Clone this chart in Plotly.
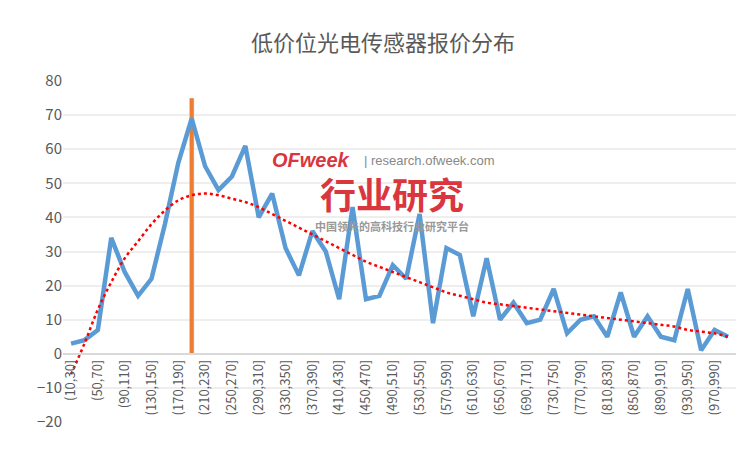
import plotly.graph_objects as go

categories = [f"({a},{a+20}]" for a in range(10, 1010, 20)]
counts = [3, 4, 7, 34, 24, 17, 22, 38, 56, 69, 55, 48, 52, 61, 40, 47, 31, 23, 36, 30,
          16, 43, 16, 17, 26, 22, 41, 9, 31, 29, 11, 28, 10, 15, 9, 10, 19, 6, 10, 11,
          5, 18, 5, 11, 5, 4, 19, 1, 7, 5]
trend = [-6, 3, 13, 21, 28, 33, 38, 42, 45, 46.5, 47, 46.5, 45.5, 44.5, 43, 41, 39, 37, 35, 33,
         31, 29, 27, 25.5, 24, 22.5, 21, 19.5, 18, 17, 16, 15, 14.5, 14, 13.5, 13, 12.5, 12, 11.5, 11,
         10.5, 10, 9.5, 9, 8.5, 8, 7, 6.5, 6, 5]
marker_cat = ["(190,210]"]
marker_val = [75]
tick_labels = categories[::2]

fig = go.Figure()
fig.add_trace(go.Bar(x=marker_cat, y=marker_val, marker_color="#ED7D31", width=0.35, hoverinfo="skip"))
fig.add_trace(go.Scatter(x=categories, y=counts, mode="lines",
                         line=dict(color="#5B9BD5", width=4.5)))
fig.add_trace(go.Scatter(x=categories, y=trend, mode="lines", line_shape="spline",
                         line=dict(color="#FF0000", width=2.5, dash="dot")))

fig.update_layout(
    width=750, height=449, showlegend=False,
    plot_bgcolor="white", paper_bgcolor="white",
    margin=dict(l=55, r=22, t=73, b=35),
    title=dict(text="低价位光电传感器报价分布", x=0.5, y=0.922, xanchor="center", yanchor="middle",
               font=dict(size=22, color="#595959", family="Noto Sans CJK SC")),
    font=dict(family="Noto Sans CJK SC", color="#595959"),
    xaxis=dict(categoryorder="array", categoryarray=categories, tickmode="array",
               tickvals=tick_labels, ticktext=tick_labels, tickangle=-90,
               anchor="free", position=0.2, showgrid=False, showline=True,
               linecolor="#D9D9D9", linewidth=1.5, ticks="", tickfont=dict(size=13, color="#595959"),
               range=[-0.6, 49.6]),
    yaxis=dict(range=[-20, 80], dtick=10, showgrid=True, gridcolor="#EEEEEE", gridwidth=1.5,
               zeroline=False, tickfont=dict(size=15, color="#595959"), domain=[0, 1]),
)

# watermark
wm = dict(xref="paper", yref="paper", showarrow=False, xanchor="center", yanchor="middle")
fig.add_annotation(x=0.369, y=0.768, text="<b><i>OFweek</i></b>",
                   font=dict(size=20, color="#D9363E", family="Liberation Sans"), **wm)
fig.add_annotation(x=0.545, y=0.768, text="| research.ofweek.com",
                   font=dict(size=13, color="#888888", family="Liberation Sans"), **wm)
fig.add_annotation(x=0.489, y=0.672, text="<b>行业研究</b>",
                   font=dict(size=36, color="#D9363E", family="Noto Sans CJK SC"), **wm)
fig.add_annotation(x=0.489, y=0.575, text="<b>中国领先的高科技行业研究平台</b>",
                   font=dict(size=11, color="#999999", family="Noto Sans CJK SC"), **wm)

fig.write_html("out.html")
